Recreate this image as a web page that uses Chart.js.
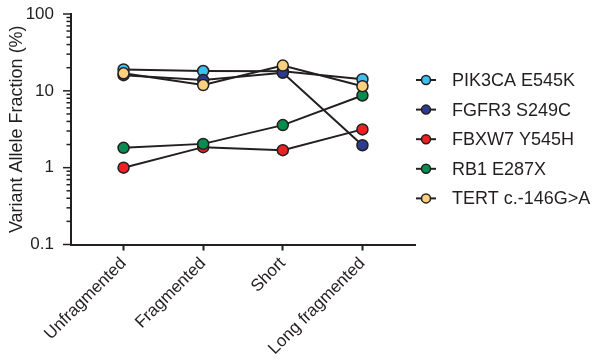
<!DOCTYPE html>
<html>
<head>
<meta charset="utf-8">
<script src="https://cdn.jsdelivr.net/npm/chart.js@4/dist/chart.umd.min.js"></script>
<style>
  html, body { margin: 0; padding: 0; background: #ffffff; }
  #wrap { width: 597px; height: 360px; }
</style>
</head>
<body>
<div id="wrap"><canvas id="c" width="597" height="360"></canvas></div>
<script>
// Fraction groups along the x axis
const categories = ['Unfragmented', 'Fragmented', 'Short', 'Long fragmented'];

// Variant allele fraction (%) per mutation
const pik3ca = [19.0, 18.1, 18.0, 14.2];
const fgfr3  = [16.0, 13.8, 17.2, 1.96];
const fbxw7  = [1.0, 1.85, 1.69, 3.15];
const rb1    = [1.81, 2.04, 3.58, 8.7];
const tert   = [16.9, 11.9, 21.3, 11.5];

const seriesNames = ['PIK3CA E545K', 'FGFR3 S249C', 'FBXW7 Y545H', 'RB1 E287X', 'TERT c.-146G>A'];
const seriesValues = [pik3ca, fgfr3, fbxw7, rb1, tert];
const seriesColors = ['#3DBFEF', '#2E3990', '#ED2124', '#078C4F', '#FBD080'];

// Log axis tick labels
const yMajorTicks = [0.1, 1, 10, 100];

const INK = '#231F20';
const FONT = "'Liberation Sans', Arial, Helvetica, sans-serif";

const datasets = seriesValues.map((vals, i) => ({
  label: seriesNames[i],
  data: vals.map((v, j) => ({ x: j, y: v })),
  borderColor: INK,
  borderWidth: 2,
  backgroundColor: seriesColors[i],
  pointBackgroundColor: seriesColors[i],
  pointBorderColor: INK,
  pointBorderWidth: 1.5,
  pointRadius: 5.5,
  pointHoverRadius: 5.5,
  tension: 0,
  order: seriesValues.length - 1 - i
}));

// Minor and major tick marks on the log axis
const logTicks = {
  id: 'logTicks',
  afterDraw(chart) {
    const ys = chart.scales.y;
    const ctx = chart.ctx;
    const x0 = chart.chartArea.left;
    ctx.save();
    ctx.strokeStyle = INK;
    ctx.lineWidth = 1.5;
    for (let d = 0; d < yMajorTicks.length; d++) {
      const base = yMajorTicks[d];
      const py = ys.getPixelForValue(base);
      ctx.beginPath();
      ctx.moveTo(x0 - 8, py);
      ctx.lineTo(x0, py);
      ctx.stroke();
      if (d < yMajorTicks.length - 1) {
        for (let m = 2; m <= 9; m++) {
          const p = ys.getPixelForValue(base * m);
          ctx.beginPath();
          ctx.moveTo(x0 - 4.5, p);
          ctx.lineTo(x0, p);
          ctx.stroke();
        }
      }
    }
    ctx.restore();
  }
};

// Legend on the right: line through a marker, then the name
const sideLegend = {
  id: 'sideLegend',
  afterDraw(chart) {
    const ctx = chart.ctx;
    ctx.save();
    ctx.font = '18px ' + FONT;
    ctx.textBaseline = 'middle';
    ctx.textAlign = 'left';
    seriesNames.forEach((name, i) => {
      const y = 80 + i * 29.6;
      ctx.strokeStyle = INK;
      ctx.lineWidth = 2;
      ctx.beginPath();
      ctx.moveTo(416, y);
      ctx.lineTo(436, y);
      ctx.stroke();
      ctx.beginPath();
      ctx.arc(426, y, 4.5, 0, Math.PI * 2);
      ctx.fillStyle = seriesColors[i];
      ctx.fill();
      ctx.lineWidth = 1.5;
      ctx.stroke();
      ctx.fillStyle = INK;
      ctx.fillText(name, 452, y + 1);
    });
    ctx.restore();
  }
};

new Chart(document.getElementById('c'), {
  type: 'line',
  data: { datasets },
  options: {
    responsive: false,
    animation: false,
    devicePixelRatio: 1,
    layout: { padding: { left: 0, top: 14, right: 182, bottom: 0 } },
    plugins: {
      legend: { display: false },
      tooltip: { enabled: false }
    },
    scales: {
      x: {
        type: 'linear',
        min: -0.66,
        max: 3.66,
        afterBuildTicks(scale) {
          scale.ticks = categories.map((_, i) => ({ value: i }));
        },
        afterFit(scale) {
          scale.height = 115.5;
          scale.paddingLeft = 0;
          scale.paddingRight = 0;
        },
        grid: {
          display: true,
          drawOnChartArea: false,
          drawTicks: true,
          tickLength: 6,
          tickWidth: 2,
          tickColor: INK
        },
        border: { display: true, color: INK, width: 2 },
        ticks: {
          autoSkip: false,
          maxRotation: 45,
          minRotation: 45,
          padding: 3,
          color: INK,
          font: { family: FONT, size: 17 },
          callback: (v) => categories[v] ?? ''
        }
      },
      y: {
        type: 'logarithmic',
        min: 0.1,
        max: 100,
        afterBuildTicks(scale) {
          scale.ticks = yMajorTicks.map(v => ({ value: v }));
        },
        afterFit(scale) {
          scale.width = 71;
          scale.paddingTop = 0;
          scale.paddingBottom = 0;
        },
        grid: { display: false },
        border: { display: true, color: INK, width: 2 },
        ticks: {
          padding: 9,
          color: INK,
          font: { family: FONT, size: 17 },
          callback: (v) => String(v)
        },
        title: {
          display: true,
          text: 'Variant Allele Fraction (%)',
          color: INK,
          font: { family: FONT, size: 18 },
          padding: { top: 6, bottom: 0 }
        }
      }
    }
  },
  plugins: [logTicks, sideLegend]
});
</script>
</body>
</html>
